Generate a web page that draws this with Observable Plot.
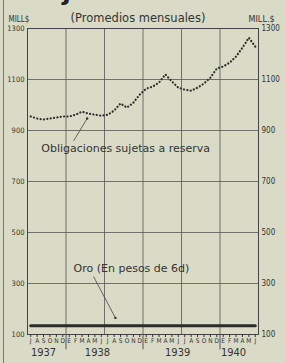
<!DOCTYPE html>
<html>
<head>
<meta charset="utf-8">
<script src="https://cdn.jsdelivr.net/npm/d3@7"></script>
<script src="https://cdn.jsdelivr.net/npm/@observablehq/plot@0.6"></script>
<style>
  html, body { margin: 0; padding: 0; background: #d9dbc6; }
  #wrap { position: relative; width: 286px; height: 363px; overflow: hidden; }
  #wrap .edge { position: absolute; left: 3px; top: 0; width: 1px; height: 363px; background: #777; }
</style>
</head>
<body>
<div id="wrap"><div class="edge"></div></div>
<script>
// Month index 0 = July 1937 ... 35 = June 1940
const monthLetters = ["J","A","S","O","N","D","E","F","M","A","M","J",
                      "J","A","S","O","N","D","E","F","M","A","M","J",
                      "J","A","S","O","N","D","E","F","M","A","M","J"];
const obligaciones = [955, 947, 943, 947, 951, 955, 955, 962, 974, 966, 962, 958,
                      962, 978, 1006, 990, 1009, 1041, 1064, 1072, 1088, 1120, 1092, 1068,
                      1060, 1056, 1068, 1084, 1107, 1143, 1151, 1166, 1190, 1225, 1264, 1229];
const oro = [134, 134, 134, 134, 134, 134, 134, 134, 134, 134, 134, 134,
             134, 134, 134, 134, 134, 134, 134, 134, 134, 134, 134, 134,
             134, 134, 134, 134, 134, 134, 134, 134, 134, 134, 134, 134];
const yTicks = [100, 300, 500, 700, 900, 1100, 1300];
const halfYearBounds = [0, 6, 12, 18, 24, 30, 36];
const yearBounds = [6, 18, 30];
const yearLabels = [{x: 2.5, t: "1937"}, {x: 10.9, t: "1938"}, {x: 23.4, t: "1939"}, {x: 32.1, t: "1940"}];
const title = "sujetas a reserva";
const subtitle = "(Promedios mensuales)";
const unitLeft = "MILL$";
const unitRight = "MILL.$";
const labelOblig = {x: 15.3, y: 829, t: "Obligaciones sujetas a reserva"};
const pointerOblig = {x1: 7.2, y1: 860, x2: 9.3, y2: 947};
const labelOro = {x: 16.2, y: 359, t: "Oro (En pesos de 6d)"};
const pointerOro = {x1: 10.3, y1: 327, x2: 13.7, y2: 165};

const months = monthLetters.map((m, i) => ({i: i + 0.5, m, ob: obligaciones[i], oro: oro[i]}));

const narrow = "'DejaVu Sans Condensed', 'Liberation Sans Narrow', 'DejaVu Sans', sans-serif";
const wide = "'DejaVu Sans', sans-serif";
const ink = "#333";

const chart = Plot.plot({
  width: 286,
  height: 363,
  marginLeft: 27,
  marginRight: 28,
  marginTop: 28,
  marginBottom: 29,
  x: {domain: [0, 36]},
  y: {domain: [100, 1300]},
  style: {background: "transparent", fontFamily: narrow, color: ink, overflow: "visible"},
  marks: [
    Plot.ruleY(yTicks, {stroke: "#555", strokeWidth: 1, strokeOpacity: 0.8}),
    Plot.ruleX(halfYearBounds, {stroke: "#555", strokeWidth: 1, strokeOpacity: 0.8}),
    Plot.ruleX(yearBounds, {y1: 100, y2: 40, stroke: "#555", strokeWidth: 1}),
    Plot.frame({stroke: "#444"}),
    Plot.axisY({anchor: "left", ticks: yTicks, tickFormat: d => String(d), tickSize: 0, tickPadding: 3,
                fontSize: 7.5, label: null}),
    Plot.axisY({anchor: "right", ticks: yTicks, tickFormat: d => String(d), tickSize: 0, tickPadding: 3,
                fontSize: 8, label: null}),
    Plot.axisX({ticks: months.map(d => d.i), tickFormat: d => monthLetters[Math.floor(d)],
                tickSize: 3, tickPadding: 1, fontSize: 6.5, label: null}),
    Plot.text(yearLabels, {x: "x", text: "t", frameAnchor: "bottom", dy: 21, fontSize: 11, fill: ink}),
    Plot.line(months, {x: "i", y: "oro", stroke: "#2b2b2b", strokeWidth: 3}),
    Plot.line(months, {x: "i", y: "ob", stroke: "#2e2e2e", strokeWidth: 2.2,
                       strokeDasharray: "0.1,3.3", strokeLinecap: "round"}),
    Plot.link([pointerOblig], {x1: "x1", y1: "y1", x2: "x2", y2: "y2", stroke: "#444", strokeWidth: 0.8}),
    Plot.dot([pointerOblig], {x: "x2", y: "y2", r: 1.2, fill: "#333"}),
    Plot.text([labelOblig], {x: "x", y: "y", text: "t", fontSize: 11, fontFamily: wide, fill: ink}),
    Plot.link([pointerOro], {x1: "x1", y1: "y1", x2: "x2", y2: "y2", stroke: "#444", strokeWidth: 0.8}),
    Plot.dot([pointerOro], {x: "x2", y: "y2", r: 1.2, fill: "#333"}),
    Plot.text([labelOro], {x: "x", y: "y", text: "t", fontSize: 11, fontFamily: wide, fill: ink}),
    Plot.text([title], {frameAnchor: "top", dx: 8, dy: -29, lineAnchor: "bottom", fontSize: 25,
                        fontFamily: wide, fontWeight: "bold", fill: "#222"}),
    Plot.text([subtitle], {frameAnchor: "top", dx: -5, dy: -15, fontSize: 11.5, fontFamily: wide, fill: ink}),
    Plot.text([unitLeft], {frameAnchor: "top-left", dx: -19, dy: -12, textAnchor: "start", fontSize: 8, fill: ink}),
    Plot.text([unitRight], {frameAnchor: "top-right", dx: -10, dy: -13, textAnchor: "start", fontSize: 9, fill: ink})
  ]
});
document.getElementById("wrap").appendChild(chart);
</script>
</body>
</html>
